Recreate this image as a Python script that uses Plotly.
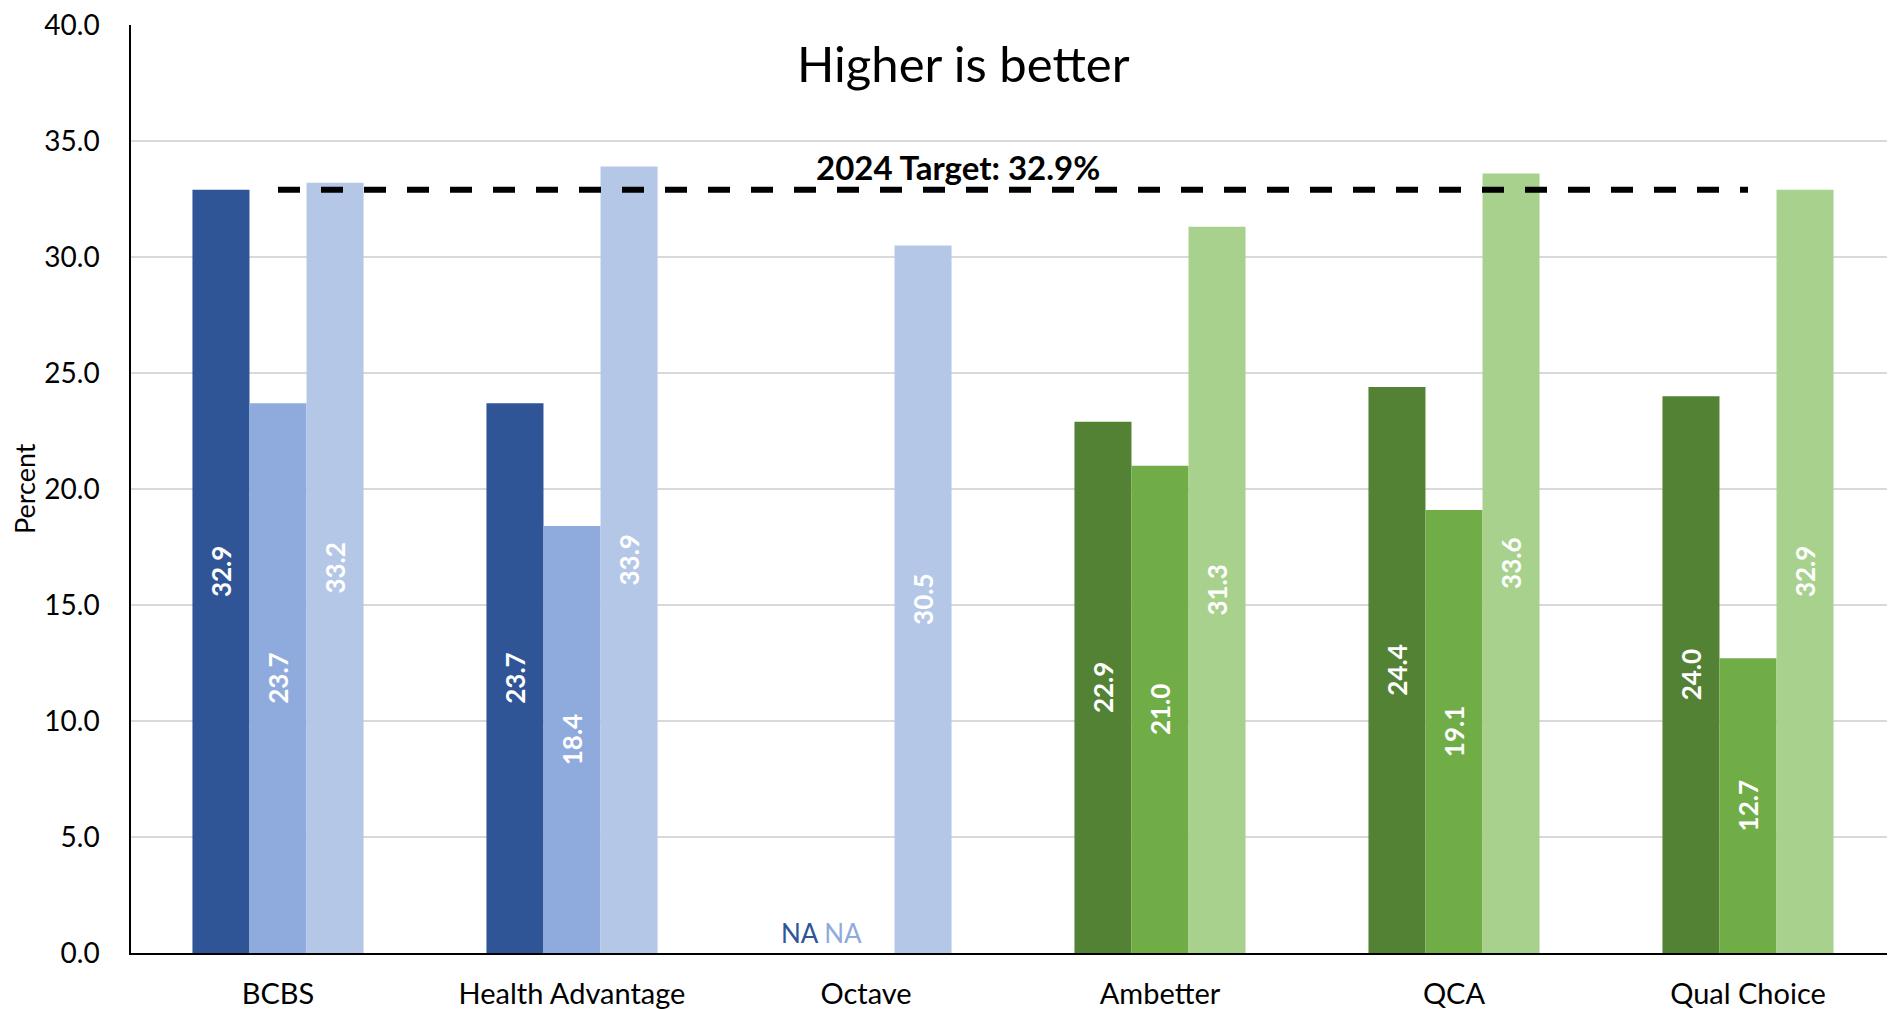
import plotly.graph_objects as go

categories = ["BCBS", "Health Advantage", "Octave", "Ambetter", "QCA", "Qual Choice"]
series1 = [32.9, 23.7, None, 22.9, 24.4, 24.0]
series2 = [23.7, 18.4, None, 21.0, 19.1, 12.7]
series3 = [33.2, 33.9, 30.5, 31.3, 33.6, 32.9]
target = 32.9
target_label = "2024 Target: 32.9%"
title_text = "Higher is better"
y_ticks = [0, 5, 10, 15, 20, 25, 30, 35, 40]

blue_shades = ["#2F5597", "#8FAADC", "#B4C7E7"]
green_shades = ["#548235", "#70AD47", "#A9D18E"]
group_palette = ["blue", "blue", "blue", "green", "green", "green"]

FONT = "Lato, 'Open Sans', sans-serif"

fig = go.Figure()
for i, vals in enumerate([series1, series2, series3]):
    colors = [(blue_shades if g == "blue" else green_shades)[i] for g in group_palette]
    fig.add_trace(go.Bar(
        x=categories, y=vals,
        marker=dict(color=colors, line=dict(width=0)),
        text=[f"{v:.1f}" if v is not None else "" for v in vals],
        textposition="inside", insidetextanchor="middle", textangle=-90,
        textfont=dict(family=FONT, size=26, color="white", weight="bold"),
        constraintext="none", cliponaxis=False, showlegend=False,
        hoverinfo="skip",
    ))

fig.add_trace(go.Scatter(
    x=categories, y=[target] * len(categories), mode="lines",
    line=dict(color="black", width=6, dash="22px,21px"),
    showlegend=False, hoverinfo="skip",
))

fig.add_annotation(
    x=0.5, xref="paper", xshift=-55, y=target, yref="y", yshift=23,
    text=f"<b>{target_label}</b>", showarrow=False,
    font=dict(family=FONT, size=33, color="black"), yanchor="middle",
)
fig.add_annotation(
    x=0.5, xref="paper", xshift=-50, y=1, yref="paper", yshift=-38,
    text=title_text, showarrow=False,
    font=dict(family=FONT, size=49, color="black"), yanchor="middle",
)
fig.add_annotation(
    x="Octave", xref="x", xshift=-45, y=0, yref="y", yshift=2,
    text="<span style='color:#2F5597'>NA</span> <span style='color:#8FAADC'>NA</span>",
    showarrow=False, font=dict(family=FONT, size=26), yanchor="bottom",
)
fig.add_annotation(
    x=0, xref="paper", xshift=-107, xanchor="center", y=0.5, yref="paper",
    text="Percent", textangle=-90, showarrow=False,
    font=dict(family=FONT, size=27, color="black"),
)

fig.update_layout(
    width=1887, height=1001,
    margin=dict(l=123, r=0, t=17, b=56),
    plot_bgcolor="white", paper_bgcolor="white",
    barmode="group", bargap=0.418, bargroupgap=0,
    font=dict(family=FONT, color="black"),
)
fig.update_xaxes(
    showline=True, linecolor="black", linewidth=2,
    showgrid=False, ticks="outside", ticklen=14, tickcolor="rgba(0,0,0,0)",
    tickfont=dict(family=FONT, size=29, color="black"),
    ticklabeloverflow="allow", automargin=False,
)
fig.update_yaxes(
    range=[0, 40], tickvals=y_ticks, tickformat=".1f",
    showline=True, linecolor="black", linewidth=1.5,
    showgrid=True, gridcolor="#D9D9D9", gridwidth=1.5, zeroline=False,
    ticks="outside", ticklen=24, tickcolor="rgba(0,0,0,0)",
    tickfont=dict(family=FONT, size=28, color="black"),
    ticklabeloverflow="allow", automargin=False,
)

fig.write_html("out.html")
